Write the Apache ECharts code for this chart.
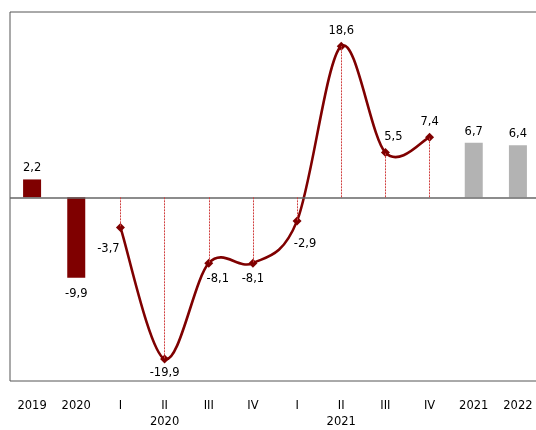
<!DOCTYPE html>
<html>
<head>
<meta charset="utf-8">
<script src="https://cdn.jsdelivr.net/npm/echarts@6/dist/echarts.min.js"></script>
<style>html,body{margin:0;padding:0;background:#fff;overflow:hidden}#c{width:540px;height:430px}</style>
</head>
<body>
<div id="c"></div>
<script>
const categories = ['2019','2020','I','II','III','IV','I','II','III','IV','2021','2022'];
const groupLabels = ['','','','2020','','','','2021','','','',''];
const barValues = [2.2, -9.9, null, null, null, null, null, null, null, null, 6.7, 6.4];
const barColors = ['#7f0000','#7f0000',null,null,null,null,null,null,null,null,'#b3b3b3','#b3b3b3'];
const quarterValues = [null, null, -3.7, -19.9, -8.1, -8.1, -2.9, 18.6, 5.5, 7.4, null, null];
const quarterLabelOffsets = [null,null,[-12,6],[0,-2],[9,0],[0,0],[8,8],[0,0],[8,0],[0,0],null,null];
const quarterLabelPos = [null,null,'bottom','bottom','bottom','bottom','bottom','top','top','top',null,null];

const fmt = v => String(v).replace('.', ',');
const font = 'DejaVu Sans';

const barData = barValues.map((v, i) => v === null ? null : {
  value: v,
  itemStyle: { color: barColors[i] },
  label: { position: v >= 0 ? 'top' : 'bottom', offset: v >= 0 ? [0, 0] : [0, 5] }
});
const lineData = quarterValues.map((v, i) => v === null ? null : {
  value: v,
  label: { position: quarterLabelPos[i], offset: quarterLabelOffsets[i] }
});
const curveData = [];
const dropLines = [];
quarterValues.forEach((v, i) => {
  if (v !== null) {
    curveData.push([i, v]);
    dropLines.push([{ coord: [i, 0] }, { coord: [i, v] }]);
  }
});

function renderCurve(params, api) {
  if (params.dataIndex !== 0) return null;
  const pts = curveData.map(d => api.coord(d));
  const n = pts.length;
  let d = 'M' + pts[0][0] + ' ' + pts[0][1];
  for (let k = 0; k < n - 1; k++) {
    const p0 = pts[Math.max(k - 1, 0)], p1 = pts[k], p2 = pts[k + 1], p3 = pts[Math.min(k + 2, n - 1)];
    const c1 = [p1[0] + (p2[0] - p0[0]) / 6, p1[1] + (p2[1] - p0[1]) / 6];
    const c2 = [p2[0] - (p3[0] - p1[0]) / 6, p2[1] - (p3[1] - p1[1]) / 6];
    d += ' C' + c1[0] + ' ' + c1[1] + ' ' + c2[0] + ' ' + c2[1] + ' ' + p2[0] + ' ' + p2[1];
  }
  return {
    type: 'path', shape: { pathData: d },
    style: { fill: 'none', stroke: '#7f0000', lineWidth: 2.6 }
  };
}

const chart = echarts.init(document.getElementById('c'), null, { renderer: 'canvas' });
chart.setOption({
  animation: false,
  grid: { left: 10, top: 12, width: 530, height: 371, show: true, borderColor: '#555', borderWidth: 1 },
  xAxis: {
    type: 'category', data: categories,
    axisLine: { show: false }, axisTick: { show: false },
    axisLabel: {
      margin: 17, color: '#000', fontFamily: font, fontSize: 11.5, lineHeight: 16,
      interval: 0,
      formatter: (v, i) => groupLabels[i] ? v + '\n' + groupLabels[i] : v
    }
  },
  yAxis: {
    type: 'value', min: -22.6, max: 22.8,
    axisLine: { show: false }, axisTick: { show: false },
    axisLabel: { show: false }, splitLine: { show: false }
  },
  series: [
    {
      type: 'bar', data: barData, barWidth: 18,
      label: { show: true, color: '#000', fontFamily: font, fontSize: 11.5, formatter: p => fmt(p.value) },
      markLine: {
        silent: true, symbol: 'none', label: { show: false },
        lineStyle: { color: '#666', width: 1.5, type: 'solid' },
        data: [{ yAxis: 0 }]
      },
      z: 2
    },
    {
      type: 'custom', data: curveData, renderItem: renderCurve,
      encode: { x: 0, y: 1 }, silent: true, z: 3
    },
    {
      type: 'line', data: lineData, connectNulls: false,
      symbol: 'diamond', symbolSize: 9,
      itemStyle: { color: '#7f0000' },
      lineStyle: { width: 0, opacity: 0 },
      label: { show: true, color: '#000', fontFamily: font, fontSize: 11.5, formatter: p => fmt(p.value) },
      markLine: {
        silent: true, symbol: 'none', label: { show: false },
        lineStyle: { color: '#d04040', width: 1, type: [2, 1] },
        data: dropLines
      },
      z: 4
    }
  ]
});
</script>
</body>
</html>
